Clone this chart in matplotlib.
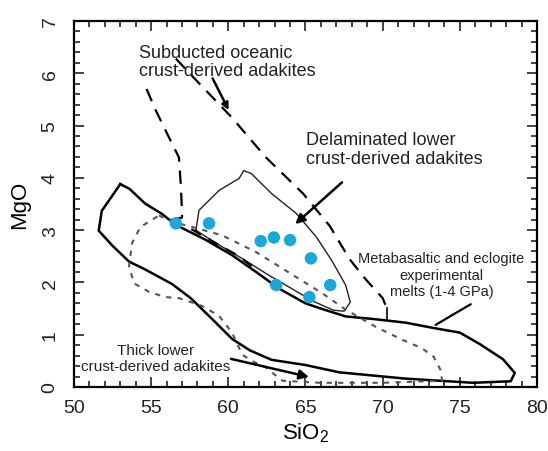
import matplotlib
matplotlib.use('Agg')
import matplotlib.pyplot as plt
from matplotlib.ticker import MultipleLocator

plt.rcParams['font.family'] = ['Liberation Sans', 'DejaVu Sans']
plt.rcParams['mathtext.default'] = 'regular'

# samples (blue dots)
sample_sio2 = [56.6, 58.75, 62.1, 62.95, 64.0, 65.35, 63.1, 65.25, 66.6]
sample_mgo = [3.13, 3.13, 2.79, 2.86, 2.81, 2.46, 1.95, 1.72, 1.95]

# metabasaltic and eclogite experimental melts field (solid)
exp_sio2 = [53.0, 51.8, 51.6, 52.5, 53.56, 54.6, 56.35, 57.56, 58.95, 60.24, 61.4, 62.8, 65.0, 67.2,
            71.5, 75.86, 78.3, 78.56, 77.8, 76.3, 75.0, 73.27, 71.5, 69.4, 67.6, 66.1, 65.0, 63.3,
            61.8, 60.25, 58.5, 56.6, 55.7, 54.6, 53.6, 53.0]
exp_mgo = [3.88, 3.37, 2.99, 2.70, 2.40, 2.25, 1.97, 1.70, 1.30, 0.92, 0.70, 0.52, 0.42, 0.28,
           0.16, 0.08, 0.11, 0.27, 0.53, 0.82, 1.04, 1.13, 1.23, 1.30, 1.35, 1.49, 1.60, 1.88,
           2.20, 2.52, 2.82, 3.10, 3.31, 3.51, 3.79, 3.88]

# delaminated lower crust-derived adakites field (thin solid)
del_sio2 = [57.9, 58.1, 59.4, 60.7, 61.0, 61.5, 62.8, 64.4, 65.7, 66.7, 67.6, 67.9, 67.5,
            66.8, 65.5, 64.0, 62.5, 61.0, 59.5, 58.3, 57.9]
del_mgo = [3.0, 3.38, 3.76, 3.99, 4.14, 4.08, 3.70, 3.32, 2.87, 2.42, 1.95, 1.62, 1.45,
           1.47, 1.64, 1.90, 2.16, 2.44, 2.70, 2.92, 3.0]

# thick lower crust-derived adakites field (dotted)
thick_sio2 = [55.5, 56.5, 57.8, 59.6, 61.8, 63.7, 66.1, 67.5, 69.55, 71.3, 72.55, 73.3, 73.76, 73.85,
              70.0, 66.0, 63.5, 62.4, 61.5, 60.9, 60.24, 59.4, 58.3, 56.8, 55.9, 54.86, 53.9,
              53.56, 53.76, 54.3, 55.5]
thick_mgo = [3.28, 3.15, 3.05, 2.90, 2.58, 2.23, 1.79, 1.50, 1.15, 0.90, 0.74, 0.58, 0.32, 0.12,
             0.08, 0.08, 0.12, 0.38, 0.50, 0.62, 1.04, 1.36, 1.55, 1.70, 1.72, 1.82, 1.98,
             2.30, 2.75, 3.06, 3.28]

# subducted oceanic crust-derived adakites (dashed, open lines)
sub_left_sio2 = [54.7, 55.3, 56.16, 56.8, 56.93, 57.0, 57.0, 56.3]
sub_left_mgo = [5.70, 5.29, 4.77, 4.39, 3.82, 3.32, 3.24, 3.20]
sub_low_sio2 = [57.6, 59.0, 60.7, 61.9]
sub_low_mgo = [3.02, 2.78, 2.50, 2.22]
sub_right_sio2 = [56.6, 58.1, 60.24, 62.44, 64.84, 66.57, 67.87, 68.9, 70.0, 70.25]
sub_right_mgo = [6.28, 5.81, 5.15, 4.39, 3.70, 3.08, 2.44, 2.06, 1.70, 1.52]

fig = plt.figure(figsize=(5.48, 4.52), dpi=100)
ax = fig.add_axes([74 / 548, 1 - 388 / 452, 463 / 548, 366 / 452])

ax.plot(exp_sio2, exp_mgo, color='black', lw=1.8)
ax.plot(del_sio2, del_mgo, color='#222222', lw=1.0)
ax.plot(thick_sio2, thick_mgo, color='#555555', lw=1.5, linestyle=(0, (2.5, 3)))
ax.plot(sub_left_sio2, sub_left_mgo, color='black', lw=1.6, linestyle=(0, (6, 4)))
ax.plot(sub_low_sio2, sub_low_mgo, color='black', lw=1.6, linestyle=(0, (5, 4)))
ax.plot(sub_right_sio2, sub_right_mgo, color='black', lw=1.6, linestyle=(0, (6, 4)))
ax.plot([70.25, 70.25], [1.52, 1.30], color='black', lw=1.2)

ax.scatter(sample_sio2, sample_mgo, s=80, color='#1aa7d9', zorder=5, edgecolors='none')

# labels and arrows
ax.text(54.2, 6.22, 'Subducted oceanic\ncrust-derived adakites', fontsize=13, ha='left', va='center',
        color='#222222', linespacing=1.1)
ax.annotate('', xy=(60.1, 5.25), xytext=(58.9, 5.95),
            arrowprops=dict(arrowstyle='-|>', color='black', lw=1.8, mutation_scale=10))
ax.text(65.06, 4.55, 'Delaminated lower\ncrust-derived adakites', fontsize=13, ha='left', va='center',
        color='#222222', linespacing=1.1)
ax.annotate('', xy=(64.2, 3.08), xytext=(67.5, 3.95),
            arrowprops=dict(arrowstyle='-|>', color='black', lw=1.8, mutation_scale=14))
ax.text(73.8, 2.15, 'Metabasaltic and eclogite\nexperimental\nmelts (1-4 GPa)', fontsize=10.5,
        ha='center', va='center', color='#222222')
ax.annotate('', xy=(73.27, 1.16), xytext=(75.86, 1.61),
            arrowprops=dict(arrowstyle='-', color='black', lw=1.6))
ax.text(55.3, 0.56, 'Thick lower\ncrust-derived adakites', fontsize=11, ha='center', va='center',
        color='#222222')
ax.annotate('', xy=(65.4, 0.18), xytext=(60.0, 0.55),
            arrowprops=dict(arrowstyle='-|>', color='black', lw=1.8, mutation_scale=14))

ax.set_xlim(50, 80)
ax.set_ylim(0, 7)
ax.xaxis.set_major_locator(MultipleLocator(5))
ax.xaxis.set_minor_locator(MultipleLocator(1))
ax.yaxis.set_major_locator(MultipleLocator(1))
ax.yaxis.set_minor_locator(MultipleLocator(0.2))
ax.tick_params(which='both', direction='in', top=True, right=True, width=1.2, colors='#222222')
ax.tick_params(which='major', length=7)
ax.tick_params(which='minor', length=4)
ax.tick_params(axis='x', labelsize=14, pad=9)
ax.tick_params(axis='y', labelsize=14, pad=11)
for lab in ax.get_yticklabels():
    lab.set_rotation(90)
    lab.set_va('center')
for sp in ax.spines.values():
    sp.set_linewidth(1.6)

ax.set_xlabel('SiO$_2$', fontsize=16, labelpad=3)
ax.set_ylabel('MgO', fontsize=16, labelpad=8)

fig.savefig('out.png', dpi=100)
